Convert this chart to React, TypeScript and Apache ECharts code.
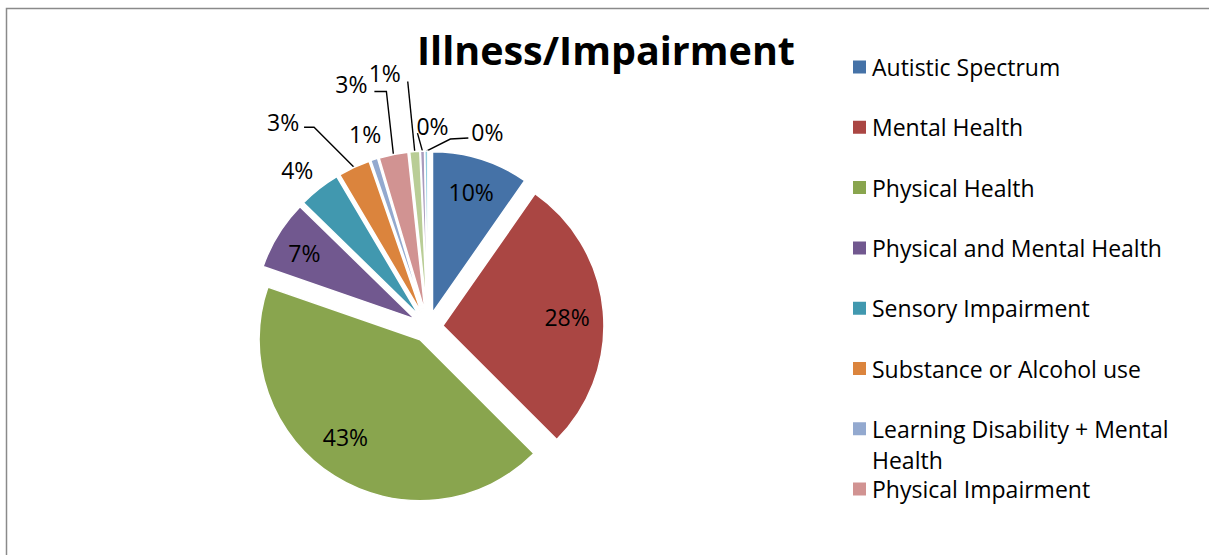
import React, { useEffect, useRef } from "react";
import * as echarts from "echarts";

// ---- data ----
const categories = [
  "Autistic Spectrum",
  "Mental Health",
  "Physical Health",
  "Physical and Mental Health",
  "Sensory Impairment",
  "Substance or Alcohol use",
  "Learning Disability + Mental Health",
  "Physical Impairment",
  "Learning Disability",
  "Other",
  "Not Known",
];
const values = [9.7, 27.8, 42.8, 7.0, 4.2, 3.2, 0.7, 2.9, 1.0, 0.4, 0.3];
const colors = [
  "#4572A7", "#AA4643", "#89A54E", "#71588F", "#4198AF", "#DB843D",
  "#93A9CF", "#D19392", "#B9CD96", "#A99BBD", "#92CDE0",
];
const legendNames = categories.slice(0, 8);
const title = "Illness/Impairment";

// ---- layout (pixels) ----
const CX = 428;
const CY = 327;
const R = 161;
const OFFSET = 15;
const INNER_K = 0.78;
// small nudges for the inside labels
const innerNudge = [[1, -1], [-1, 2], [-8, -9], [-4, 0]];
// outer label centre offsets relative to rim point, and leader line points
const outerLabel: Record<number, { d: number[]; line: number[][] | null }> = {
  4: { d: [-22, -19], line: null },
  5: { d: [-71, -45], line: [[-40, -40], [-50, -40]] },
  6: { d: [-9, -25], line: null },
  7: { d: [-42, -70], line: [[-7, -63], [-19, -63]] },
  8: { d: [-30, -79], line: [[-7, -70], [-7, -70]] },
  9: { d: [10, -25], line: [[-5, -18], [-5, -18]] },
  10: { d: [61, -19], line: [[24, -12], [42, -13]] },
};

const FONT = "'Open Sans', 'Noto Sans', sans-serif";

export default function App() {
  const ref = useRef<HTMLDivElement>(null);
  useEffect(() => {
    if (!ref.current) return;
    const chart = echarts.init(ref.current, undefined, { renderer: "svg" });
    const total = values.reduce((a, b) => a + b, 0);
    const mids: number[] = [];
    let cum = 0;
    values.forEach((v) => {
      mids.push(((cum + v / 2) / total) * Math.PI * 2);
      cum += v;
    });

    const legendCenters = [67, 127.3, 187.6, 247.9, 308.2, 368.5, 428.8, 489.1];
    const legends = legendNames.map((n, i) => {
      const isWrap = i === 6;
      return {
        orient: "vertical",
        left: 851,
        top: isWrap ? legendCenters[i] - 46.5 : legendCenters[i] - 12,
        padding: 0,
        selectedMode: false,
        icon: "rect",
        itemWidth: 15,
        itemHeight: 15,
        data: [n],
        formatter: isWrap ? () => " \nLearning Disability + Mental\nHealth" : undefined,
        textStyle: {
          fontFamily: FONT,
          fontSize: 23,
          color: "#000",
          lineHeight: isWrap ? 31 : 24,
        },
      };
    });

    const labelLayout = (p: any) => {
      const i = p.dataIndex;
      const a = mids[i];
      const dx = Math.sin(a);
      const dy = -Math.cos(a);
      const tx = CX + OFFSET * dx;
      const ty = CY + OFFSET * dy;
      if (i < 4) {
        return {
          x: tx + INNER_K * R * dx + innerNudge[i][0],
          y: ty + INNER_K * R * dy + innerNudge[i][1],
          align: "center",
          verticalAlign: "middle",
        };
      }
      const rx = tx + R * dx;
      const ry = ty + R * dy;
      const o = outerLabel[i];
      const res: any = {
        x: rx + o.d[0],
        y: ry + o.d[1],
        align: "center",
        verticalAlign: "middle",
      };
      if (o.line) {
        res.labelLinePoints = [
          [rx, ry],
          [rx + o.line[0][0], ry + o.line[0][1]],
          [rx + o.line[1][0], ry + o.line[1][1]],
        ];
      }
      return res;
    };

    chart.setOption({
      animation: false,
      color: colors,
      title: {
        text: title,
        left: 606,
        top: 30,
        textAlign: "center",
        padding: 0,
        textStyle: { fontFamily: FONT, fontSize: 39.5, fontWeight: "bold", color: "#000" },
      },
      legend: legends,
      graphic: [
        {
          type: "rect",
          shape: { x: 6.5, y: 8.5, width: 1400, height: 700 },
          style: { fill: "none", stroke: "#8a8a8a", lineWidth: 1.5 },
          silent: true,
        },
      ],
      series: [
        {
          type: "pie",
          center: [CX, CY],
          radius: [0, R],
          startAngle: 90,
          clockwise: true,
          selectedMode: "multiple",
          selectedOffset: OFFSET,
          emphasis: { disabled: true },
          select: { itemStyle: { borderColor: "#fff", borderWidth: 1.5 } },
          itemStyle: { borderColor: "#fff", borderWidth: 1.5 },
          label: { show: false },
          labelLine: { show: false },
          data: categories.map((n, i) => ({ name: n, value: values[i], selected: true })),
        },
        {
          type: "pie",
          silent: true,
          center: [CX, CY],
          radius: [0, R],
          startAngle: 90,
          clockwise: true,
          selectedMode: false,
          avoidLabelOverlap: false,
          minShowLabelAngle: 0,
          emphasis: { disabled: true },
          itemStyle: { color: "transparent", borderWidth: 0 },
          label: {
            show: true,
            position: "outside",
            fontFamily: FONT,
            fontSize: 23,
            color: "#000",
            formatter: (p: any) => Math.round((p.value / total) * 100) + "%",
          },
          labelLine: { show: true, lineStyle: { color: "#000", width: 1.4, opacity: 1 } },
          labelLayout,
          data: categories.map((n, i) => {
            const item: any = { name: n, value: values[i] };
            if (i < 4 || !outerLabel[i].line) item.labelLine = { show: false };
            return item;
          }),
        },
      ],
    });
    return () => chart.dispose();
  }, []);
  return (
    <div
      ref={ref}
      style={{ position: "fixed", left: 0, top: 0, width: 1209, height: 555, background: "#fff" }}
    />
  );
}
